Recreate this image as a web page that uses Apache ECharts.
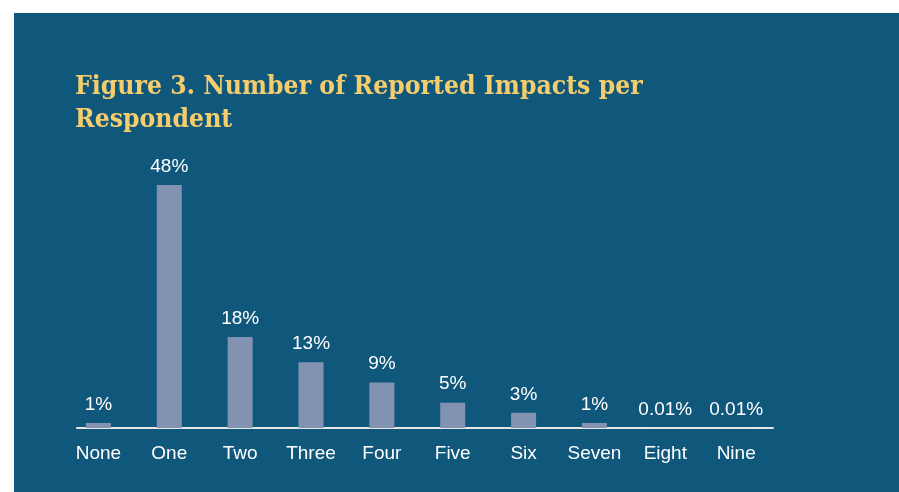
<!DOCTYPE html>
<html>
<head>
<meta charset="utf-8">
<script src="https://cdn.jsdelivr.net/npm/echarts@6/dist/echarts.min.js"></script>
<style>
html,body{margin:0;padding:0;background:#ffffff;width:899px;height:492px;overflow:hidden;}
#chart{position:absolute;left:14px;top:13px;width:885px;height:479px;}
</style>
</head>
<body>
<div id="chart"></div>
<script>
const titleText = 'Figure 3. Number of Reported Impacts per\nRespondent';
const categories = ['None','One','Two','Three','Four','Five','Six','Seven','Eight','Nine'];
const values = [1, 48, 18, 13, 9, 5, 3, 1, 0.01, 0.01];
const valueLabels = ['1%','48%','18%','13%','9%','5%','3%','1%','0.01%','0.01%'];

const chart = echarts.init(document.getElementById('chart'), null, {renderer:'canvas'});
const sans = '"Liberation Sans", Arial, sans-serif';
chart.setOption({
  backgroundColor: '#10577c',
  animation: false,
  title: {
    text: titleText,
    left: 61, top: 58,
    padding: 0,
    textStyle: {
      color: '#f6cd6c',
      fontFamily: '"DejaVu Serif Condensed", "DejaVu Serif", serif',
      fontWeight: 'bold',
      fontSize: 26.3,
      lineHeight: 33
    }
  },
  grid: [
    {left: 49, width: 708.6, top: 172, bottom: 64},
    {left: 63, right: 126, top: 172, bottom: 64}
  ],
  xAxis: [
    {
      type: 'category', data: categories, gridIndex: 0,
      axisLine: {show: false},
      axisTick: {show: false},
      axisLabel: {color: '#ffffff', fontFamily: sans, fontSize: 19, margin: 16}
    },
    {
      type: 'category', data: [], gridIndex: 1,
      axisLine: {show: true, lineStyle: {color: '#e6e6e6', width: 2}},
      axisTick: {show: false},
      axisLabel: {show: false}
    }
  ],
  yAxis: [
    {type: 'value', min: 0, max: 48, show: false, gridIndex: 0, splitLine: {show: false}},
    {type: 'value', show: false, gridIndex: 1, splitLine: {show: false}}
  ],
  series: [{
    type: 'bar',
    data: values,
    barWidth: 25,
    itemStyle: {color: '#8293b2'},
    label: {
      show: true,
      position: 'top',
      distance: 9,
      color: '#ffffff',
      fontFamily: sans,
      fontSize: 19,
      formatter: p => valueLabels[p.dataIndex]
    }
  }]
});
</script>
</body>
</html>
